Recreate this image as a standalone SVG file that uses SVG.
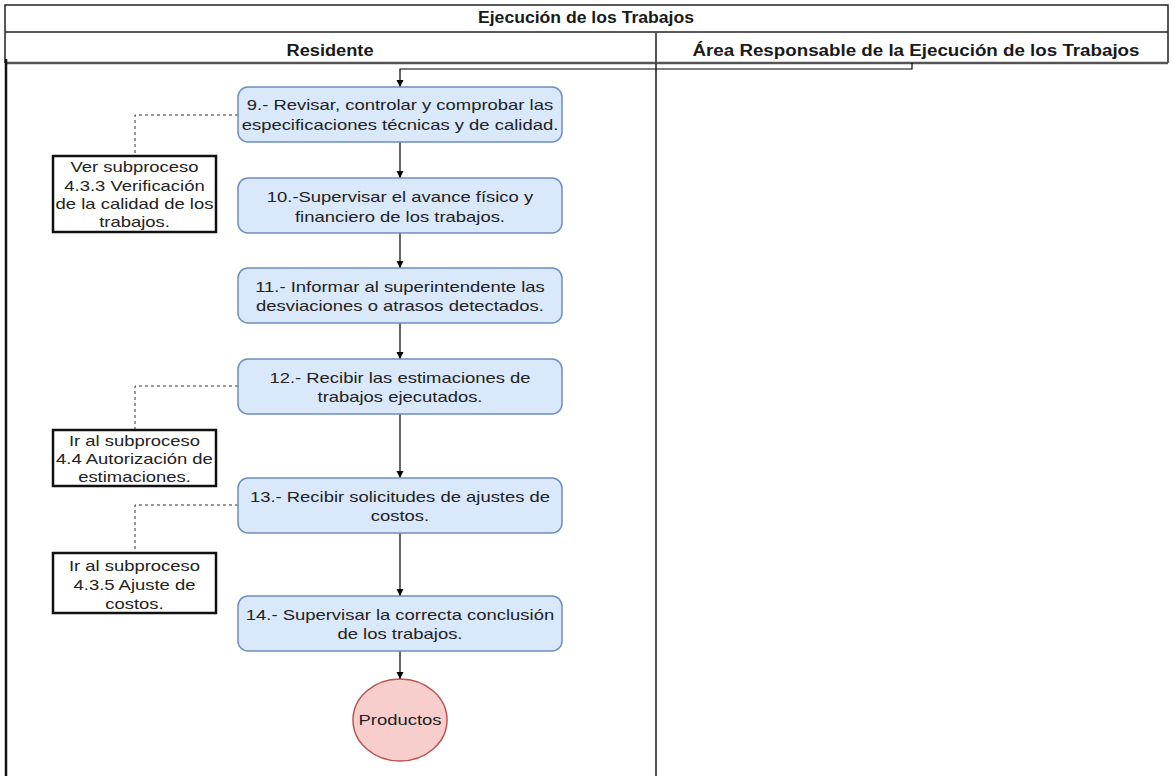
<svg xmlns="http://www.w3.org/2000/svg" width="1172" height="776" viewBox="0 0 1172 776">
<defs>
<marker id="ah" markerWidth="10" markerHeight="10" refX="8" refY="5" orient="auto" markerUnits="userSpaceOnUse">
<path d="M1,1.5 L8,5 L1,8.5 Z" fill="#000"/>
</marker>
<style>
.frame{fill:none;stroke:#222;stroke-width:1.5}
.hline{fill:none;stroke:#555;stroke-width:2.5}
.hdr{font-family:"Liberation Sans",Arial,sans-serif;font-size:16px;font-weight:bold;fill:#1a1a1a;text-anchor:middle}
.t{font-family:"Liberation Sans",Arial,sans-serif;font-size:15px;fill:#222;text-anchor:middle}
.step{fill:#dae8fc;stroke:#6c8ebf;stroke-width:1.5}
.ref{fill:#fff;stroke:#111;stroke-width:2.5}
.end{fill:#f8cecc;stroke:#b85450;stroke-width:1.5}
.flow{fill:none;stroke:#000;stroke-width:1.2;marker-end:url(#ah)}
.dash{fill:none;stroke:#333;stroke-width:1;stroke-dasharray:3 3}
</style>
</defs>
<rect width="1172" height="776" fill="#fff"/>
<g id="pool">
<path class="frame" d="M5,63 V5 H1168 V63"/>
<line class="frame" x1="5" y1="32" x2="1168" y2="32"/>
<line class="hline" x1="5" y1="63" x2="1168" y2="63"/>
<line x1="6" y1="59" x2="6" y2="776" stroke="#111" stroke-width="2.5"/>
<line x1="656" y1="32" x2="656" y2="776" stroke="#444" stroke-width="1.8"/>
<text class="hdr" x="586" y="23" textLength="216" lengthAdjust="spacingAndGlyphs">Ejecución de los Trabajos</text>
<text class="hdr" x="330" y="56" textLength="87" lengthAdjust="spacingAndGlyphs">Residente</text>
<text class="hdr" x="916" y="56" textLength="447" lengthAdjust="spacingAndGlyphs">Área Responsable de la Ejecución de los Trabajos</text>
</g>
<g id="connectors">
<path class="flow" d="M912,63 V69 H400 V87"/>
<line class="flow" x1="400" y1="142" x2="400" y2="178"/>
<line class="flow" x1="400" y1="233" x2="400" y2="268"/>
<line class="flow" x1="400" y1="323" x2="400" y2="359"/>
<line class="flow" x1="400" y1="414" x2="400" y2="478"/>
<line class="flow" x1="400" y1="533" x2="400" y2="596"/>
<line class="flow" x1="400" y1="651" x2="400" y2="679"/>
<path class="dash" d="M238,115 H135 V156"/>
<path class="dash" d="M238,386 H135 V430"/>
<path class="dash" d="M238,505 H135 V553"/>
</g>
<g id="n9">
<rect class="step" x="238" y="87" width="324" height="55" rx="10"/>
<g transform="translate(400 0) scale(1.23 1) translate(-400 0)">
<text class="t" x="400" y="110">9.- Revisar, controlar y comprobar las</text>
<text class="t" x="400" y="130">especificaciones técnicas y de calidad.</text>
</g>
</g>
<g id="n10">
<rect class="step" x="238" y="178" width="324" height="55" rx="10"/>
<g transform="translate(400 0) scale(1.23 1) translate(-400 0)">
<text class="t" x="400" y="202">10.-Supervisar el avance físico y</text>
<text class="t" x="400" y="222">financiero de los trabajos.</text>
</g>
</g>
<g id="n11">
<rect class="step" x="238" y="268" width="324" height="55" rx="10"/>
<g transform="translate(400 0) scale(1.23 1) translate(-400 0)">
<text class="t" x="400" y="292">11.- Informar al superintendente las</text>
<text class="t" x="400" y="311">desviaciones o atrasos detectados.</text>
</g>
</g>
<g id="n12">
<rect class="step" x="238" y="359" width="324" height="55" rx="10"/>
<g transform="translate(400 0) scale(1.23 1) translate(-400 0)">
<text class="t" x="400" y="383">12.- Recibir las estimaciones de</text>
<text class="t" x="400" y="402">trabajos ejecutados.</text>
</g>
</g>
<g id="n13">
<rect class="step" x="238" y="478" width="324" height="55" rx="10"/>
<g transform="translate(400 0) scale(1.23 1) translate(-400 0)">
<text class="t" x="400" y="502">13.- Recibir solicitudes de ajustes de</text>
<text class="t" x="400" y="521">costos.</text>
</g>
</g>
<g id="n14">
<rect class="step" x="238" y="596" width="324" height="55" rx="10"/>
<g transform="translate(400 0) scale(1.23 1) translate(-400 0)">
<text class="t" x="400" y="620">14.- Supervisar la correcta conclusión</text>
<text class="t" x="400" y="639">de los trabajos.</text>
</g>
</g>
<g id="productos">
<ellipse class="end" cx="400" cy="720" rx="47" ry="41"/>
<g transform="translate(400 0) scale(1.23 1) translate(-400 0)">
<text class="t" x="400" y="725">Productos</text>
</g>
</g>
<g id="refA">
<rect class="ref" x="53" y="156" width="163" height="76"/>
<g transform="translate(134.5 0) scale(1.23 1) translate(-134.5 0)">
<text class="t" x="134.5" y="172">Ver subproceso</text>
<text class="t" x="134.5" y="191">4.3.3 Verificación</text>
<text class="t" x="134.5" y="209">de la calidad de los</text>
<text class="t" x="134.5" y="227">trabajos.</text>
</g>
</g>
<g id="refB">
<rect class="ref" x="53" y="430" width="163" height="56"/>
<g transform="translate(134.5 0) scale(1.23 1) translate(-134.5 0)">
<text class="t" x="134.5" y="446">Ir al subproceso</text>
<text class="t" x="134.5" y="464">4.4 Autorización de</text>
<text class="t" x="134.5" y="482">estimaciones.</text>
</g>
</g>
<g id="refC">
<rect class="ref" x="53" y="553" width="163" height="60"/>
<g transform="translate(134.5 0) scale(1.23 1) translate(-134.5 0)">
<text class="t" x="134.5" y="571">Ir al subproceso</text>
<text class="t" x="134.5" y="590">4.3.5 Ajuste de</text>
<text class="t" x="134.5" y="609">costos.</text>
</g>
</g>
</svg>
